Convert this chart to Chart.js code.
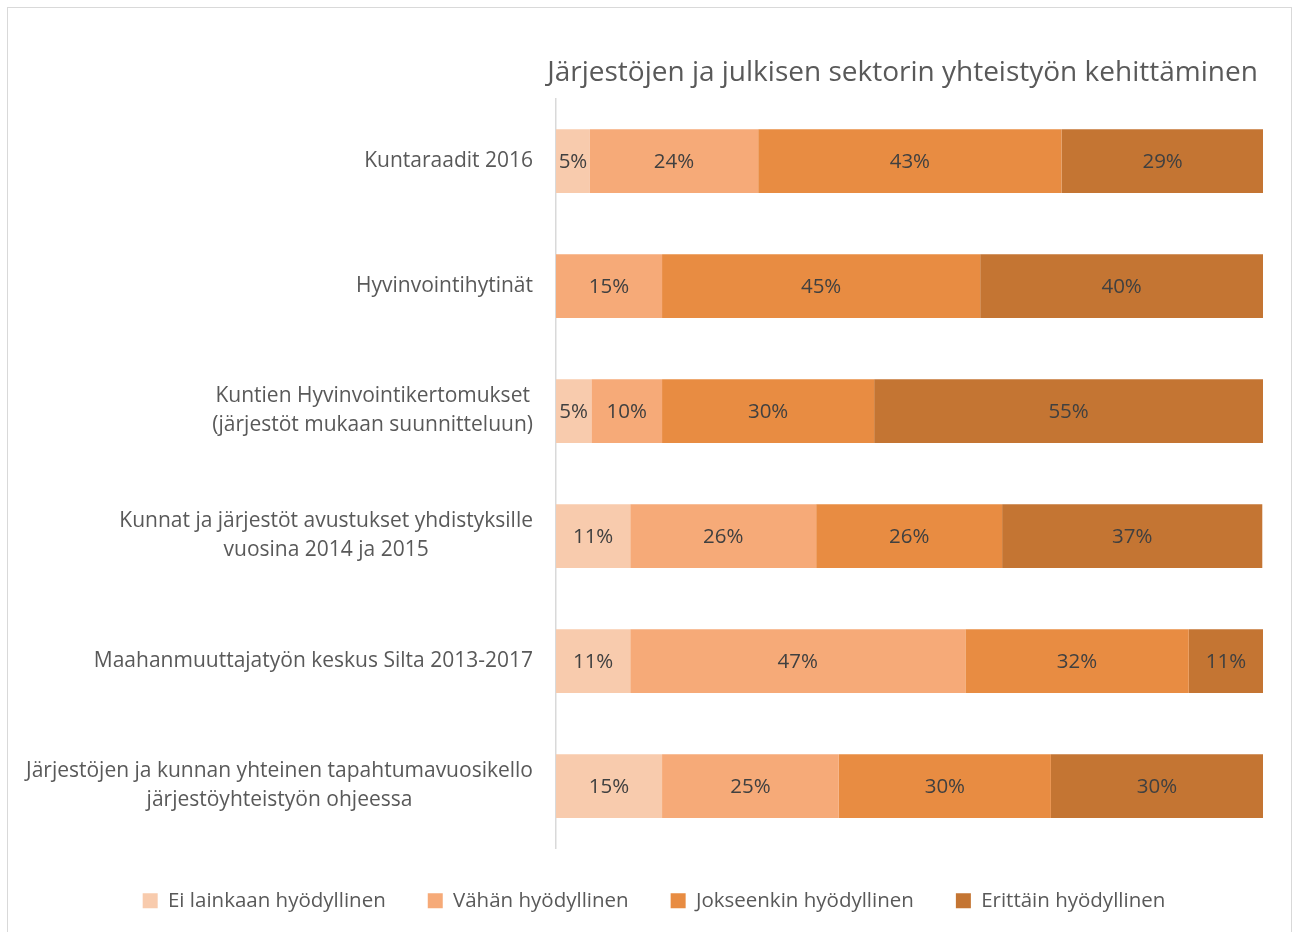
<!DOCTYPE html>
<html>
<head>
<meta charset="utf-8">
<script src="https://cdn.jsdelivr.net/npm/chart.js@4.4.0/dist/chart.umd.min.js"></script>
<style>
  body { margin: 0; background: #fff; }
  #frame { position: absolute; left: 7px; top: 7px; width: 1283px; height: 940px; border: 1px solid #d9d9d9; }
  #bars { position: absolute; left: 0; top: 0; }
</style>
</head>
<body>
<div id="frame"></div>
<canvas id="bars" width="1293" height="932"></canvas>
<script>
var chartTitle = 'Järjestöjen ja julkisen sektorin yhteistyön kehittäminen';

var categories = [
    ['Kuntaraadit 2016'],
    ['Hyvinvointihytinät'],
    ['Kuntien Hyvinvointikertomukset', '(järjestöt mukaan suunnitteluun)'],
    ['Kunnat ja järjestöt avustukset yhdistyksille', 'vuosina 2014 ja 2015'],
    ['Maahanmuuttajatyön keskus Silta 2013-2017'],
    ['Järjestöjen ja kunnan yhteinen tapahtumavuosikello', 'järjestöyhteistyön ohjeessa']
];

var seriesNames = ['Ei lainkaan hyödyllinen', 'Vähän hyödyllinen', 'Jokseenkin hyödyllinen', 'Erittäin hyödyllinen'];
var seriesColors = ['#F8CBAD', '#F6AA78', '#E88C42', '#C47533'];

// percentages per category
var eiLainkaan  = [4.8, 0, 5, 10.5, 10.5, 15];
var vahan       = [23.8, 15, 10, 26.3, 47.4, 25];
var jokseenkin  = [42.9, 45, 30, 26.3, 31.6, 30];
var erittain    = [28.6, 40, 55, 36.8, 10.5, 30];

var seriesValues = [eiLainkaan, vahan, jokseenkin, erittain];

var textGray = '#595959';
var fontName = '"Open Sans", sans-serif';

// title centred over the plot area
var titlePlugin = {
    id: 'titlePlugin',
    afterDraw: function(chart) {
        var ctx = chart.ctx;
        var area = chart.chartArea;
        ctx.save();
        ctx.fillStyle = textGray;
        ctx.font = '28px ' + fontName;
        ctx.textAlign = 'center';
        ctx.textBaseline = 'middle';
        ctx.fillText(chartTitle, (area.left + area.right) / 2 - 7, 73);
        ctx.restore();
    }
};

// category labels: right-aligned block, lines centred within the block
var catLabels = {
    id: 'catLabels',
    afterDraw: function(chart) {
        var ctx = chart.ctx;
        var yScale = chart.scales.y;
        var right = chart.chartArea.left - 23;
        ctx.save();
        ctx.fillStyle = textGray;
        ctx.font = '21px ' + fontName;
        ctx.textAlign = 'center';
        ctx.textBaseline = 'middle';
        categories.forEach(function(lines, i) {
            var y = yScale.getPixelForValue(i);
            var w = 0;
            lines.forEach(function(l) { w = Math.max(w, ctx.measureText(l).width); });
            var lh = 29;
            var y0 = y - (lines.length - 1) * lh / 2;
            lines.forEach(function(l, k) {
                ctx.fillText(l, right - w / 2, y0 + k * lh);
            });
        });
        ctx.restore();
    }
};

// percentage labels in the middle of each segment
var valueLabels = {
    id: 'valueLabels',
    afterDatasetsDraw: function(chart) {
        var ctx = chart.ctx;
        ctx.save();
        ctx.fillStyle = '#404040';
        ctx.font = '20.5px ' + fontName;
        ctx.textAlign = 'center';
        ctx.textBaseline = 'middle';
        chart.data.datasets.forEach(function(ds, di) {
            var meta = chart.getDatasetMeta(di);
            meta.data.forEach(function(bar, i) {
                var v = ds.data[i];
                if (!v) return;
                var p = bar.getProps(['x', 'y', 'base'], true);
                ctx.fillText(Math.round(v) + '%', (p.x + p.base) / 2, p.y + 1);
            });
        });
        ctx.restore();
    }
};

var ctx = document.getElementById('bars').getContext('2d');
var myChart = new Chart(ctx, {
    type: 'bar',
    data: {
        labels: categories.map(function(c) { return c.join(' '); }),
        datasets: seriesNames.map(function(name, i) {
            return {
                label: name,
                data: seriesValues[i],
                backgroundColor: seriesColors[i],
                borderWidth: 0,
                barPercentage: 0.51,
                categoryPercentage: 1.0
            };
        })
    },
    options: {
        indexAxis: 'y',
        responsive: false,
        animation: false,
        layout: { padding: { top: 98.5, right: 30, bottom: 11, left: 45 } },
        scales: {
            x: {
                stacked: true,
                min: 0,
                max: 100,
                display: false
            },
            y: {
                stacked: true,
                grid: { display: false },
                border: { display: true, color: '#d9d9d9', width: 1.5 },
                ticks: { display: false },
                afterFit: function(scale) { scale.width = 511; }
            }
        },
        plugins: {
            legend: {
                position: 'bottom',
                labels: {
                    boxWidth: 15,
                    boxHeight: 15,
                    padding: 42,
                    color: textGray,
                    font: { family: fontName, size: 20.5 }
                }
            },
            tooltip: { enabled: false }
        }
    },
    plugins: [titlePlugin, catLabels, valueLabels]
});
</script>
</body>
</html>
